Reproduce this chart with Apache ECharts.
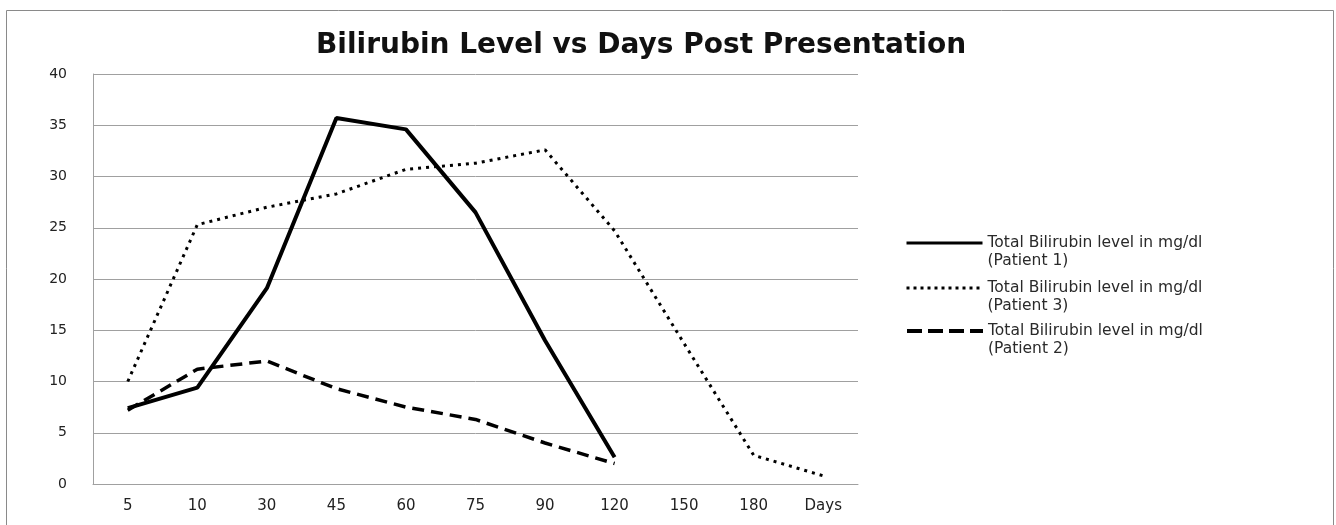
<!DOCTYPE html>
<html>
<head>
<meta charset="utf-8">
<script src="https://cdn.jsdelivr.net/npm/echarts@6/dist/echarts.min.js"></script>
<style>html,body{margin:0;padding:0;background:#fff;}#c{width:1336px;height:525px;}</style>
</head>
<body>
<div id="c"></div>
<script>
var categories = ['5','10','30','45','60','75','90','120','150','180','Days'];
var patient1 = [7.4, 9.4, 19.1, 35.7, 34.6, 26.5, 14.0, 2.6, null, null, null];
var patient3 = [10.0, 25.3, 27.0, 28.3, 30.7, 31.3, 32.6, 24.7, 13.7, 2.8, 0.8];
var patient2 = [7.2, 11.2, 12.0, 9.3, 7.5, 6.3, 4.0, 2.0, null, null, null];
var yTicks = [0, 5, 10, 15, 20, 25, 30, 35, 40];
var names = [
  'Total Bilirubin level in mg/dl\n(Patient 1)',
  'Total Bilirubin level in mg/dl\n(Patient 3)',
  'Total Bilirubin level in mg/dl\n(Patient 2)'
];

function legendFor(name, top, lineStyle) {
  return {
    orient: 'vertical', left: 900, top: top,
    itemWidth: 76, itemHeight: 14,
    data: [name],
    itemStyle: {opacity: 0},
    lineStyle: lineStyle,
    formatter: function (n) { return '\u00a0\n' + n; },
    textStyle: {fontFamily: 'DejaVu Sans', fontSize: 15.5, color: '#2a2a2a', lineHeight: 18}
  };
}

var chart = echarts.init(document.getElementById('c'));
chart.setOption({
  backgroundColor: '#fff',
  animation: false,
  title: {
    text: 'Bilirubin Level vs Days Post Presentation',
    left: 311, top: 27,
    textStyle: {fontFamily: 'DejaVu Sans', fontWeight: 'bold', fontSize: 28, color: '#111'}
  },
  graphic: [{
    type: 'rect', shape: {x: 6.5, y: 10.5, width: 1327, height: 520},
    style: {fill: 'none', stroke: '#8a8a8a', lineWidth: 1}, silent: true
  }],
  legend: [
    legendFor(names[0], 211, {width: 3, type: 'solid', color: '#000'}),
    legendFor(names[1], 256, {width: 3, type: [3, 4], color: '#000'}),
    legendFor(names[2], 299, {width: 4, type: [15, 6], color: '#000'})
  ],
  grid: {left: 93, right: 478, top: 74, bottom: 41},
  xAxis: {
    type: 'category', data: categories, boundaryGap: true,
    axisLine: {lineStyle: {color: '#a0a0a0', width: 1}},
    axisTick: {show: false},
    axisLabel: {fontFamily: 'DejaVu Sans', fontSize: 15, color: '#222', margin: 15, interval: 0}
  },
  yAxis: {
    type: 'value', min: yTicks[0], max: yTicks[yTicks.length - 1], interval: 5,
    axisLine: {show: true, lineStyle: {color: '#a0a0a0', width: 1}},
    axisTick: {show: false},
    splitLine: {lineStyle: {color: '#a0a0a0', width: 1}},
    axisLabel: {fontFamily: 'DejaVu Sans', fontSize: 14, color: '#222', margin: 26}
  },
  series: [
    {name: names[0], type: 'line', data: patient1, showSymbol: false, symbol: 'none',
     lineStyle: {color: '#000', width: 4, type: 'solid'}, itemStyle: {color: '#000'}},
    {name: names[1], type: 'line', data: patient3, showSymbol: false, symbol: 'none',
     lineStyle: {color: '#000', width: 3, type: [3, 5]}, itemStyle: {color: '#000'}},
    {name: names[2], type: 'line', data: patient2, showSymbol: false, symbol: 'none',
     lineStyle: {color: '#000', width: 3.5, type: [12, 7]}, itemStyle: {color: '#000'}}
  ]
});
</script>
</body>
</html>
